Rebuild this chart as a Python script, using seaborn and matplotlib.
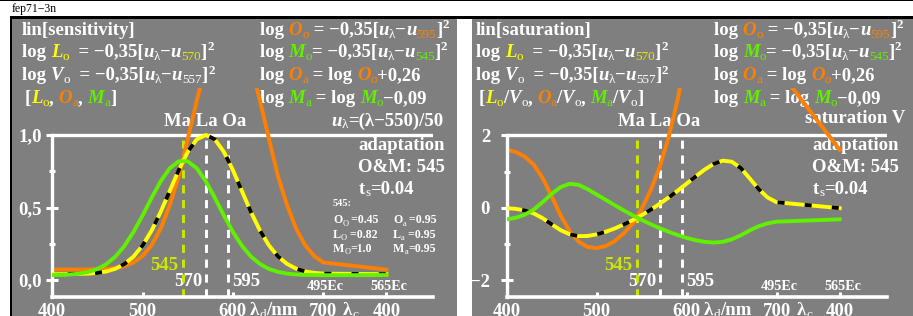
import matplotlib
matplotlib.use("Agg")
import matplotlib.pyplot as plt
import seaborn as sns
from matplotlib.patches import Rectangle
from matplotlib.font_manager import FontProperties

# ---------------- data ----------------
# x positions: 400..700 nm, the last one (770) is the end of the λc range labelled "400"
wavelength = [400, 410, 420, 430, 440, 450, 460, 470, 480, 490, 500,
              510, 520, 530, 540, 550, 560, 570, 580, 590, 600,
              610, 620, 630, 640, 650, 660, 670, 680, 690, 700, 770]

sens_L = [0.040, 0.040, 0.041, 0.042, 0.044, 0.049, 0.059, 0.078, 0.111, 0.162, 0.238,
          0.341, 0.469, 0.613, 0.758, 0.884, 0.970, 1.000, 0.970, 0.884, 0.758,
          0.613, 0.469, 0.341, 0.238, 0.162, 0.111, 0.078, 0.059, 0.049, 0.044, 0.040]
sens_M = [0.034, 0.035, 0.038, 0.044, 0.056, 0.076, 0.110, 0.162, 0.236, 0.332, 0.445,
          0.567, 0.681, 0.770, 0.819, 0.819, 0.770, 0.681, 0.567, 0.445, 0.332,
          0.236, 0.162, 0.110, 0.076, 0.056, 0.044, 0.038, 0.035, 0.034, 0.033, 0.034]
sens_O = [0.072, 0.072, 0.072, 0.072, 0.073, 0.074, 0.077, 0.083, 0.096, 0.121, 0.166,
          0.240, 0.354, 0.515, 0.714, 0.972, 1.236, 1.485, 1.679, 1.786, 1.786,
          1.679, 1.485, 1.236, 0.972, 0.714, 0.515, 0.354, 0.240, 0.166, 0.121, 0.072]

sat_L = [-0.012, -0.032, -0.075, -0.158, -0.291, -0.460, -0.622, -0.735, -0.785, -0.781, -0.737,
         -0.666, -0.574, -0.465, -0.342, -0.205, -0.055, 0.107, 0.283, 0.470, 0.666,
         0.864, 1.054, 1.210, 1.300, 1.271, 1.097, 0.810, 0.512, 0.280, 0.150, -0.012]
sat_M = [-0.321, -0.278, -0.195, -0.050, 0.155, 0.382, 0.570, 0.660, 0.630, 0.510, 0.364,
         0.218, 0.071, -0.073, -0.210, -0.338, -0.457, -0.566, -0.666, -0.755, -0.834,
         -0.898, -0.943, -0.963, -0.943, -0.876, -0.763, -0.629, -0.511, -0.432, -0.386, -0.321]
sat_O = [1.600, 1.540, 1.412, 1.190, 0.817, 0.311, -0.218, -0.654, -0.941, -1.086, -1.118,
         -1.059, -0.923, -0.711, -0.439, -0.027, 0.480, 1.129, 1.953, 2.992, 4.280,
         5.840, 7.670, 9.650, 11.48, 12.41, 12.42, 10.72, 8.160, 5.690, 3.880, 1.600]

x_ticks = [400, 500, 600, 700, 770]
x_ticklabels = ["400", "500", "600", "700", "400"]
sens_yticks = [0.0, 0.5, 1.0]
sens_yticklabels = ["0,0", "0,5", "1,0"]
sens_yminor = [0.25, 0.75]
sat_yticks = [-2, 0, 2]
sat_yticklabels = ["\u22122", "0", "2"]
sat_yminor = [-1, 1]
marker_wl = [545, 570, 595]

# ---------------- style ----------------
W, H = 913, 316
GRAY = "#7f7f7f"
WH = "#ffffff"
YE = "#ffff00"
YE2 = "#e8e800"
OR = "#ff7f00"
GR = "#60f000"
YG = "#cce800"
FAM = "Liberation Serif"
BASE = 13.5

fig = plt.figure(figsize=(W / 100, H / 100), dpi=100)
fig.patch.set_facecolor("white")
renderer = fig.canvas.get_renderer()


def rect(x0, y0, x1, y1, color, z=0):
    fig.add_artist(Rectangle((x0 / W, 1 - y1 / H), (x1 - x0) / W, (y1 - y0) / H,
                             transform=fig.transFigure, facecolor=color,
                             edgecolor="none", zorder=z))


rect(12, 19, 457, 316, GRAY)
rect(472, 19, 913, 316, GRAY)
rect(0, 0, 913, 1.2, "black", 1)
rect(10, 16, 913, 19, "black", 1)
rect(10, 16, 12, 316, "black", 1)


def T(s, c=WH, f=""):
    return (s, c, f)


def rich(x, y, segs, size=BASE, ha="left"):
    objs, widths = [], []
    for s, col, fl in segs:
        small = ("s" in fl) or ("S" in fl)
        sz = size * 0.7 if small else size
        dy = -2.5 if "s" in fl else (6.5 if "S" in fl else 0)
        weight = "normal" if "n" in fl else "bold"
        style = "italic" if "i" in fl else "normal"
        t = fig.text(0, 0, "|" + s + "|", fontsize=sz, family=FAM,
                     weight=weight, style=style, zorder=3)
        w1 = t.get_window_extent(renderer).width
        t.set_text("||")
        w2 = t.get_window_extent(renderer).width
        t.set_text(s)
        t.set_color(col)
        t.set_va("baseline")
        widths.append(w1 - w2)
        objs.append((t, dy))
    total = sum(widths)
    x0 = x - total if ha == "right" else (x - total / 2 if ha == "center" else x)
    for (t, dy), w in zip(objs, widths):
        t.set_position((x0 / W, 1 - (y - dy) / H))
        x0 += w


fig.text(12 / W, 1 - 12 / H, "fep71\u22123n", family=FAM, fontsize=8.5,
         color="black", va="baseline")


def formula(dx, sub_col, sub_txt):
    return [T("u", WH, "i"), T("\u03bb", WH, "sn"), T("\u2212"), T("u", WH, "i"),
            T(sub_txt, sub_col, "sn"), T("]"), T("2", WH, "S")]


def header(dx, title, row4):
    rich(22 + dx, 35, [T(title)])
    rich(22 + dx, 57, [T("log "), T("L", YE, "i"), T("o", YE, "sn"), T("  = \u22120,35[")]
         + formula(dx, YE2, "570"))
    rich(22 + dx, 80, [T("log "), T("V", WH, "i"), T("o", WH, "sn"), T("  = \u22120,35[")]
         + formula(dx, WH, "557"))
    rich(25 + dx, 103, row4)
    rich(260 + dx, 35, [T("log "), T("O", OR, "i"), T("o", OR, "sn"), T(" = \u22120,35[")]
         + formula(dx, OR, "595"))
    rich(260 + dx, 57, [T("log "), T("M", GR, "i"), T("o", GR, "sn"), T("= \u22120,35[")]
         + formula(dx, GR, "545"))
    rich(260 + dx, 80, [T("log "), T("O", OR, "i"), T("a", OR, "sn"), T(" = log "),
                        T("O", OR, "i"), T("o", OR, "sn"), T("+0,26")])
    rich(260 + dx, 103, [T("log "), T("M", GR, "i"), T("a", GR, "sn"), T(" = log "),
                         T("M", GR, "i"), T("o", GR, "sn"), T("\u22120,09")])
    rich(205 + dx, 126, [T("Ma La Oa")], ha="center")
    rich(445 + dx, 150, [T("adaptation")], ha="right")
    rich(445 + dx, 172, [T("O&M: 545")], ha="right")
    rich(359 + dx, 194, [T("t"), T("s", WH, "sn"), T("=0.04")])
    # marker labels
    rich(178 + dx, 270, [T("545", YG)], ha="right")
    rich(202 + dx, 286.5, [T("570")], ha="right")
    rich(232 + dx, 286.5, [T("595")])
    rich(325 + dx, 290, [T("495Ec")], size=10.3, ha="center")
    rich(389 + dx, 290, [T("565Ec")], size=10.3, ha="center")


header(0, "lin[sensitivity]",
       [T("["), T("L", YE, "i"), T("o", YE, "sn"), T(", "), T("O", OR, "i"), T("a", OR, "sn"),
        T(", "), T("M", GR, "i"), T("a", GR, "sn"), T("]")])
header(454, "lin[saturation]",
       [T("["), T("L", YE, "i"), T("o", YE, "sn"), T("/"), T("V", WH, "i"), T("o", WH, "sn"),
        T(", "), T("O", OR, "i"), T("a", OR, "sn"), T("/"), T("V", WH, "i"), T("o", WH, "sn"),
        T(", "), T("M", GR, "i"), T("a", GR, "sn"), T("/"), T("V", WH, "i"), T("o", WH, "sn"),
        T("]")])

rich(443, 126, [T("u", WH, "i"), T("\u03bb", WH, "sn"), T("=(\u03bb\u2212550)/50")], ha="right")
rich(905, 123, [T("saturation V")], ha="right")

# table (left panel)
TS = 8.6
rich(333, 206.5, [T("545:")], size=7.5)
rich(333, 223, [T("O"), T("O", WH, "sn"), T(" =0.45")], size=TS)
rich(393, 223, [T("O"), T("a", WH, "sn"), T(" =0.95")], size=TS)
rich(333, 237.5, [T("L"), T("O", WH, "sn"), T(" =0.82")], size=TS)
rich(393, 237.5, [T("L"), T("a", WH, "sn"), T(" =0.95")], size=TS)
rich(333, 252, [T("M"), T("O", WH, "sn"), T("=1.0")], size=TS)
rich(393, 252, [T("M"), T("a", WH, "sn"), T("=0.95")], size=TS)

# axis unit texts below the x axes
for dx in (0, 454):
    rich(250 + dx, 315.3, [T("\u03bb"), T("d", WH, "sn"), T("/nm")])
    rich(343 + dx, 315.3, [T("\u03bb"), T("c", WH, "sn")])

tick_fp = FontProperties(family=FAM, weight="bold", size=BASE)


def make_axes(left, right, top, bottom, ylo, yhi, xhi, topline, yt, ytl, ymin, ypad, vtop,
              series):
    ax = fig.add_axes([left / W, 1 - bottom / H, (right - left) / W, (bottom - top) / H])
    ax.set_facecolor("none")
    ax.set_zorder(5)
    ax.set_xlim(400, xhi)
    ax.set_ylim(ylo, yhi)
    for s in ("top", "right"):
        ax.spines[s].set_visible(False)
    ax.spines["left"].set_bounds(ylo, topline)
    ax.spines["left"].set_color(WH)
    ax.spines["left"].set_linewidth(2.4)
    ax.spines["bottom"].set_color(WH)
    ax.spines["bottom"].set_linewidth(2.6)
    ax.axhline(topline, color=WH, lw=2.4, zorder=1)
    ax.set_yticks(yt)
    ax.set_yticklabels(ytl, fontproperties=tick_fp)
    ax.set_yticks(ymin, minor=True)
    ax.set_xticks(x_ticks)
    ax.set_xticklabels(x_ticklabels, fontproperties=tick_fp)
    ax.tick_params(axis="y", which="major", direction="inout", length=8, width=2.2,
                   color=WH, labelcolor=WH, pad=ypad)
    ax.tick_params(axis="y", which="minor", direction="inout", length=5, width=2.2, color=WH)
    ax.tick_params(axis="x", which="major", direction="in", length=3.5, width=2.2,
                   color=WH, labelcolor=WH, pad=4.3)
    # marker lines
    for wl in marker_wl:
        col = YG if wl == 545 else WH
        ax.plot([wl, wl], [ylo, vtop], color=col, lw=2.1, zorder=1.5,
                linestyle=(0, (2.8, 2.3)), solid_capstyle="butt", dash_capstyle="butt")
    yL, yM, yO = series
    for y, col, z in ((yO, OR, 2), (yL, YE, 3), (yM, GR, 5)):
        sns.lineplot(x=wavelength, y=y, ax=ax, color=col, lw=2.8, zorder=z,
                     estimator=None, sort=False, legend=False)
        ax.lines[-1].set_solid_joinstyle("round")
    sns.lineplot(x=wavelength, y=yL, ax=ax, color="black", lw=2.8, zorder=4,
                 estimator=None, sort=False, legend=False)
    ln = ax.lines[-1]
    ln.set_linestyle((3, (1.8, 5.2)))
    ln.set_dash_capstyle("butt")
    ax.set_xlabel("")
    ax.set_ylabel("")
    return ax


make_axes(52.3, 433, 88, 297, (280 - 297) / 145, (280 - 88) / 145,
          400 + (433 - 52.3) / 0.903, 1.0, sens_yticks, sens_yticklabels, sens_yminor,
          3.6, 0.966, (sens_L, sens_M, sens_O))
make_axes(506.7, 886.5, 88, 296.7, (207.7 - 296.7) / 36.2, (207.7 - 88) / 36.2,
          400 + (886.5 - 506.7) / 0.9, 2.0, sat_yticks, sat_yticklabels, sat_yminor,
          8.0, 1.87, (sat_L, sat_M, sat_O))

fig.savefig("out.png", dpi=100, facecolor="white")
